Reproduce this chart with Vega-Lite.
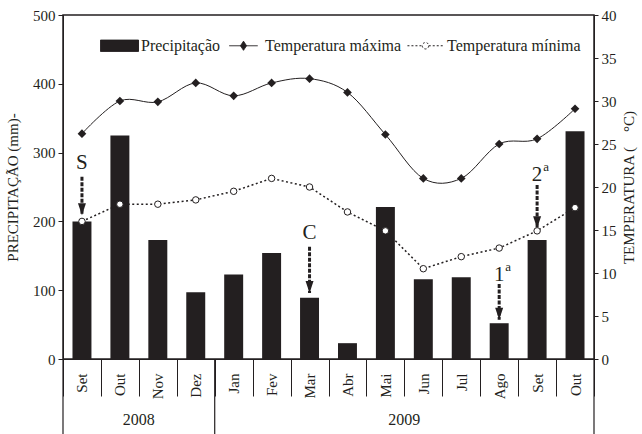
{
  "$schema": "https://vega.github.io/schema/vega-lite/v6.json",
  "width": 531,
  "height": 344,
  "autosize": {"type": "none"},
  "padding": {"left": 63, "top": 15, "right": 48, "bottom": 75},
  "background": "white",
  "config": {
    "font": "Liberation Serif",
    "view": {"stroke": "#231f20", "strokeWidth": 1.5},
    "text": {"font": "Liberation Serif"},
    "axis": {"grid": false, "labelColor": "#231f20", "titleColor": "#231f20", "tickColor": "#231f20", "domainColor": "#231f20", "labelFontSize": 15, "titleFontSize": 15, "titleFontWeight": "normal", "labelFont": "Liberation Serif", "titleFont": "Liberation Serif"},
    "legend": {"title": null, "orient": "none", "legendX": 37, "legendY": 11, "direction": "horizontal",
      "symbolSize": 1444, "labelFontSize": 16, "labelFont": "Liberation Serif", "labelColor": "#231f20",
      "labelOffset": 2, "columnPadding": 3, "symbolStrokeWidth": 1, "symbolOpacity": 1}
  },
  "datasets": {
    "clima": [
      {"mes": "Set 2008", "ano": "2008", "prec": 200, "tmax": 26.2, "tmin": 16.0},
      {"mes": "Out 2008", "ano": "2008", "prec": 325, "tmax": 30.0, "tmin": 18.0},
      {"mes": "Nov 2008", "ano": "2008", "prec": 173, "tmax": 29.9, "tmin": 18.0},
      {"mes": "Dez 2008", "ano": "2008", "prec": 97, "tmax": 32.1, "tmin": 18.5},
      {"mes": "Jan 2009", "ano": "2009", "prec": 123, "tmax": 30.6, "tmin": 19.5},
      {"mes": "Fev 2009", "ano": "2009", "prec": 154, "tmax": 32.1, "tmin": 21.0},
      {"mes": "Mar 2009", "ano": "2009", "prec": 89, "tmax": 32.6, "tmin": 20.0},
      {"mes": "Abr 2009", "ano": "2009", "prec": 23, "tmax": 31.0, "tmin": 17.1},
      {"mes": "Mai 2009", "ano": "2009", "prec": 221, "tmax": 26.1, "tmin": 14.9},
      {"mes": "Jun 2009", "ano": "2009", "prec": 116, "tmax": 21.0, "tmin": 10.5},
      {"mes": "Jul 2009", "ano": "2009", "prec": 119, "tmax": 21.0, "tmin": 11.9},
      {"mes": "Ago 2009", "ano": "2009", "prec": 52, "tmax": 25.0, "tmin": 12.9},
      {"mes": "Set 2009", "ano": "2009", "prec": 173, "tmax": 25.6, "tmin": 14.9},
      {"mes": "Out 2009", "ano": "2009", "prec": 331, "tmax": 29.1, "tmin": 17.6}
    ],
    "anotacoes": [
      {"mes": "Set 2008", "rotulo": "S", "sup": "", "texto": 285, "inicio": 265, "fim": 209},
      {"mes": "Mar 2009", "rotulo": "C", "sup": "", "texto": 183, "inicio": 163, "fim": 96},
      {"mes": "Ago 2009", "rotulo": "1", "sup": "a", "texto": 122, "inicio": 109, "fim": 57},
      {"mes": "Set 2009", "rotulo": "2", "sup": "a", "texto": 267, "inicio": 253, "fim": 190}
    ]
  },
  "encoding": {
    "x": {"field": "mes", "type": "nominal",
      "scale": {"domain": ["Set 2008","Out 2008","Nov 2008","Dez 2008","Jan 2009","Fev 2009","Mar 2009","Abr 2009","Mai 2009","Jun 2009","Jul 2009","Ago 2009","Set 2009","Out 2009"], "paddingInner": 0, "paddingOuter": 0},
      "axis": {"title": null, "labelAngle": -90, "labelAlign": "right", "labelBaseline": "middle", "labelExpr": "split(datum.label, ' ')[0]", "tickBand": "extent", "tickSize": 37, "labelPadding": -23, "labelFontSize": 15}}
  },
  "layer": [
    {
      "layer": [
        {
          "data": {"name": "clima"},
          "mark": {"type": "bar", "width": {"band": 0.5}, "color": "#231f20"},
          "encoding": {
            "y": {"field": "prec", "type": "quantitative", "scale": {"domain": [0, 500]},
              "axis": {"values": [0, 100, 200, 300, 400, 500], "title": "PRECIPITAÇÃO (mm)-", "tickSize": 5, "labelPadding": 3, "titlePadding": 12}}
          }
        },
        {
          "data": {"name": "clima"},
          "transform": [{"filter": "datum.mes === 'Out 2008' || datum.mes === 'Mai 2009'"}],
          "mark": {"type": "text", "fontSize": 16, "color": "#231f20", "baseline": "middle"},
          "encoding": {
            "x": {"field": "mes", "type": "nominal", "bandPosition": 1},
            "y": {"datum": -88, "type": "quantitative"},
            "text": {"field": "ano"}
          }
        },
        {
          "data": {"name": "clima"},
          "transform": [{"filter": "datum.mes === 'Set 2008' || datum.mes === 'Jan 2009'"}],
          "mark": {"type": "rule", "color": "#231f20", "strokeWidth": 1.2},
          "encoding": {
            "x": {"field": "mes", "type": "nominal", "bandPosition": 0},
            "y": {"datum": 0, "type": "quantitative"},
            "y2": {"datum": -110}
          }
        },
        {
          "data": {"name": "clima"},
          "transform": [{"filter": "datum.mes === 'Out 2009'"}],
          "mark": {"type": "rule", "color": "#231f20", "strokeWidth": 1.2},
          "encoding": {
            "x": {"field": "mes", "type": "nominal", "bandPosition": 1},
            "y": {"datum": 0, "type": "quantitative"},
            "y2": {"datum": -110}
          }
        },
        {
          "data": {"name": "anotacoes"},
          "mark": {"type": "rule", "color": "#231f20", "strokeWidth": 3, "strokeDash": [4, 1.5]},
          "encoding": {
            "y": {"field": "inicio", "type": "quantitative"},
            "y2": {"field": "fim"}
          }
        },
        {
          "data": {"name": "anotacoes"},
          "mark": {"type": "point", "shape": "M-1,-3L1,-3L0,0Z", "size": 64, "filled": true, "color": "#231f20", "opacity": 1, "strokeWidth": 0},
          "encoding": {
            "y": {"field": "fim", "type": "quantitative"}
          }
        },
        {
          "data": {"name": "anotacoes"},
          "mark": {"type": "text", "fontSize": 21, "color": "#231f20", "baseline": "middle", "font": "Liberation Serif"},
          "encoding": {
            "y": {"field": "texto", "type": "quantitative"},
            "text": {"field": "rotulo"}
          }
        },
        {
          "data": {"name": "anotacoes"},
          "mark": {"type": "text", "fontSize": 13, "color": "#231f20", "baseline": "middle", "dx": 9, "dy": -8, "font": "Liberation Serif"},
          "encoding": {
            "y": {"field": "texto", "type": "quantitative"},
            "text": {"field": "sup"}
          }
        }
      ]
    },
    {
      "data": {"name": "clima"},
      "layer": [
        {
          "mark": {"type": "line", "interpolate": "cardinal", "color": "#231f20", "strokeWidth": 1},
          "encoding": {
            "y": {"field": "tmax", "type": "quantitative", "scale": {"domain": [0, 40]},
              "axis": {"orient": "right", "values": [0, 5, 10, 15, 20, 25, 30, 35, 40], "title": "TEMPERATURA (\u00a0\u00a0\u00a0\u00a0°C)", "titleAngle": -90, "titleBaseline": "top", "tickSize": 4, "labelPadding": 3, "titlePadding": 5}}
          }
        },
        {
          "mark": {"type": "line", "color": "#231f20", "strokeWidth": 1.5, "strokeDash": [2, 2.5]},
          "encoding": {
            "y": {"field": "tmin", "type": "quantitative"}
          }
        },
        {
          "mark": {"type": "point", "shape": "diamond", "filled": true, "fill": "#231f20", "size": 75, "opacity": 1},
          "encoding": {
            "y": {"field": "tmax", "type": "quantitative"}
          }
        },
        {
          "mark": {"type": "point", "shape": "circle", "filled": true, "fill": "white", "stroke": "#231f20", "strokeWidth": 1, "size": 42, "opacity": 1},
          "encoding": {
            "y": {"field": "tmin", "type": "quantitative"}
          }
        },
        {
          "mark": {"type": "point", "filled": true, "opacity": 0},
          "encoding": {
            "y": {"field": "tmax", "type": "quantitative"},
            "shape": {"datum": "Temperatura máxima", "type": "nominal",
              "scale": {"domain": ["Precipitação", "Temperatura máxima", "Temperatura mínima"],
                "range": ["M-1,-0.3H1V0.3H-1Z", "M-0.75,0H0.75M0,-0.24L0.16,0L0,0.24L-0.16,0Z", "M-0.95,0H-0.17M0.17,0H0.95M0.17,0A0.17,0.17,0,1,1,-0.17,0A0.17,0.17,0,1,1,0.17,0Z"]}},
            "fill": {"datum": "Temperatura máxima", "type": "nominal",
              "scale": {"domain": ["Precipitação", "Temperatura máxima", "Temperatura mínima"], "range": ["#231f20", "#231f20", "white"]}},
            "stroke": {"datum": "Temperatura máxima", "type": "nominal",
              "scale": {"domain": ["Precipitação", "Temperatura máxima", "Temperatura mínima"], "range": ["#231f20", "#231f20", "#231f20"]}},
            "strokeDash": {"datum": "Temperatura máxima", "type": "nominal",
              "scale": {"domain": ["Precipitação", "Temperatura máxima", "Temperatura mínima"], "range": [[1, 0], [1, 0], [2, 2]]}}
          }
        },
        {
          "mark": {"type": "point", "filled": true, "opacity": 0},
          "encoding": {
            "y": {"field": "tmin", "type": "quantitative"},
            "shape": {"datum": "Temperatura mínima", "type": "nominal"},
            "fill": {"datum": "Temperatura mínima", "type": "nominal"},
            "stroke": {"datum": "Temperatura mínima", "type": "nominal"},
            "strokeDash": {"datum": "Temperatura mínima", "type": "nominal"}
          }
        }
      ]
    }
  ],
  "resolve": {"scale": {"y": "independent"}}
}
